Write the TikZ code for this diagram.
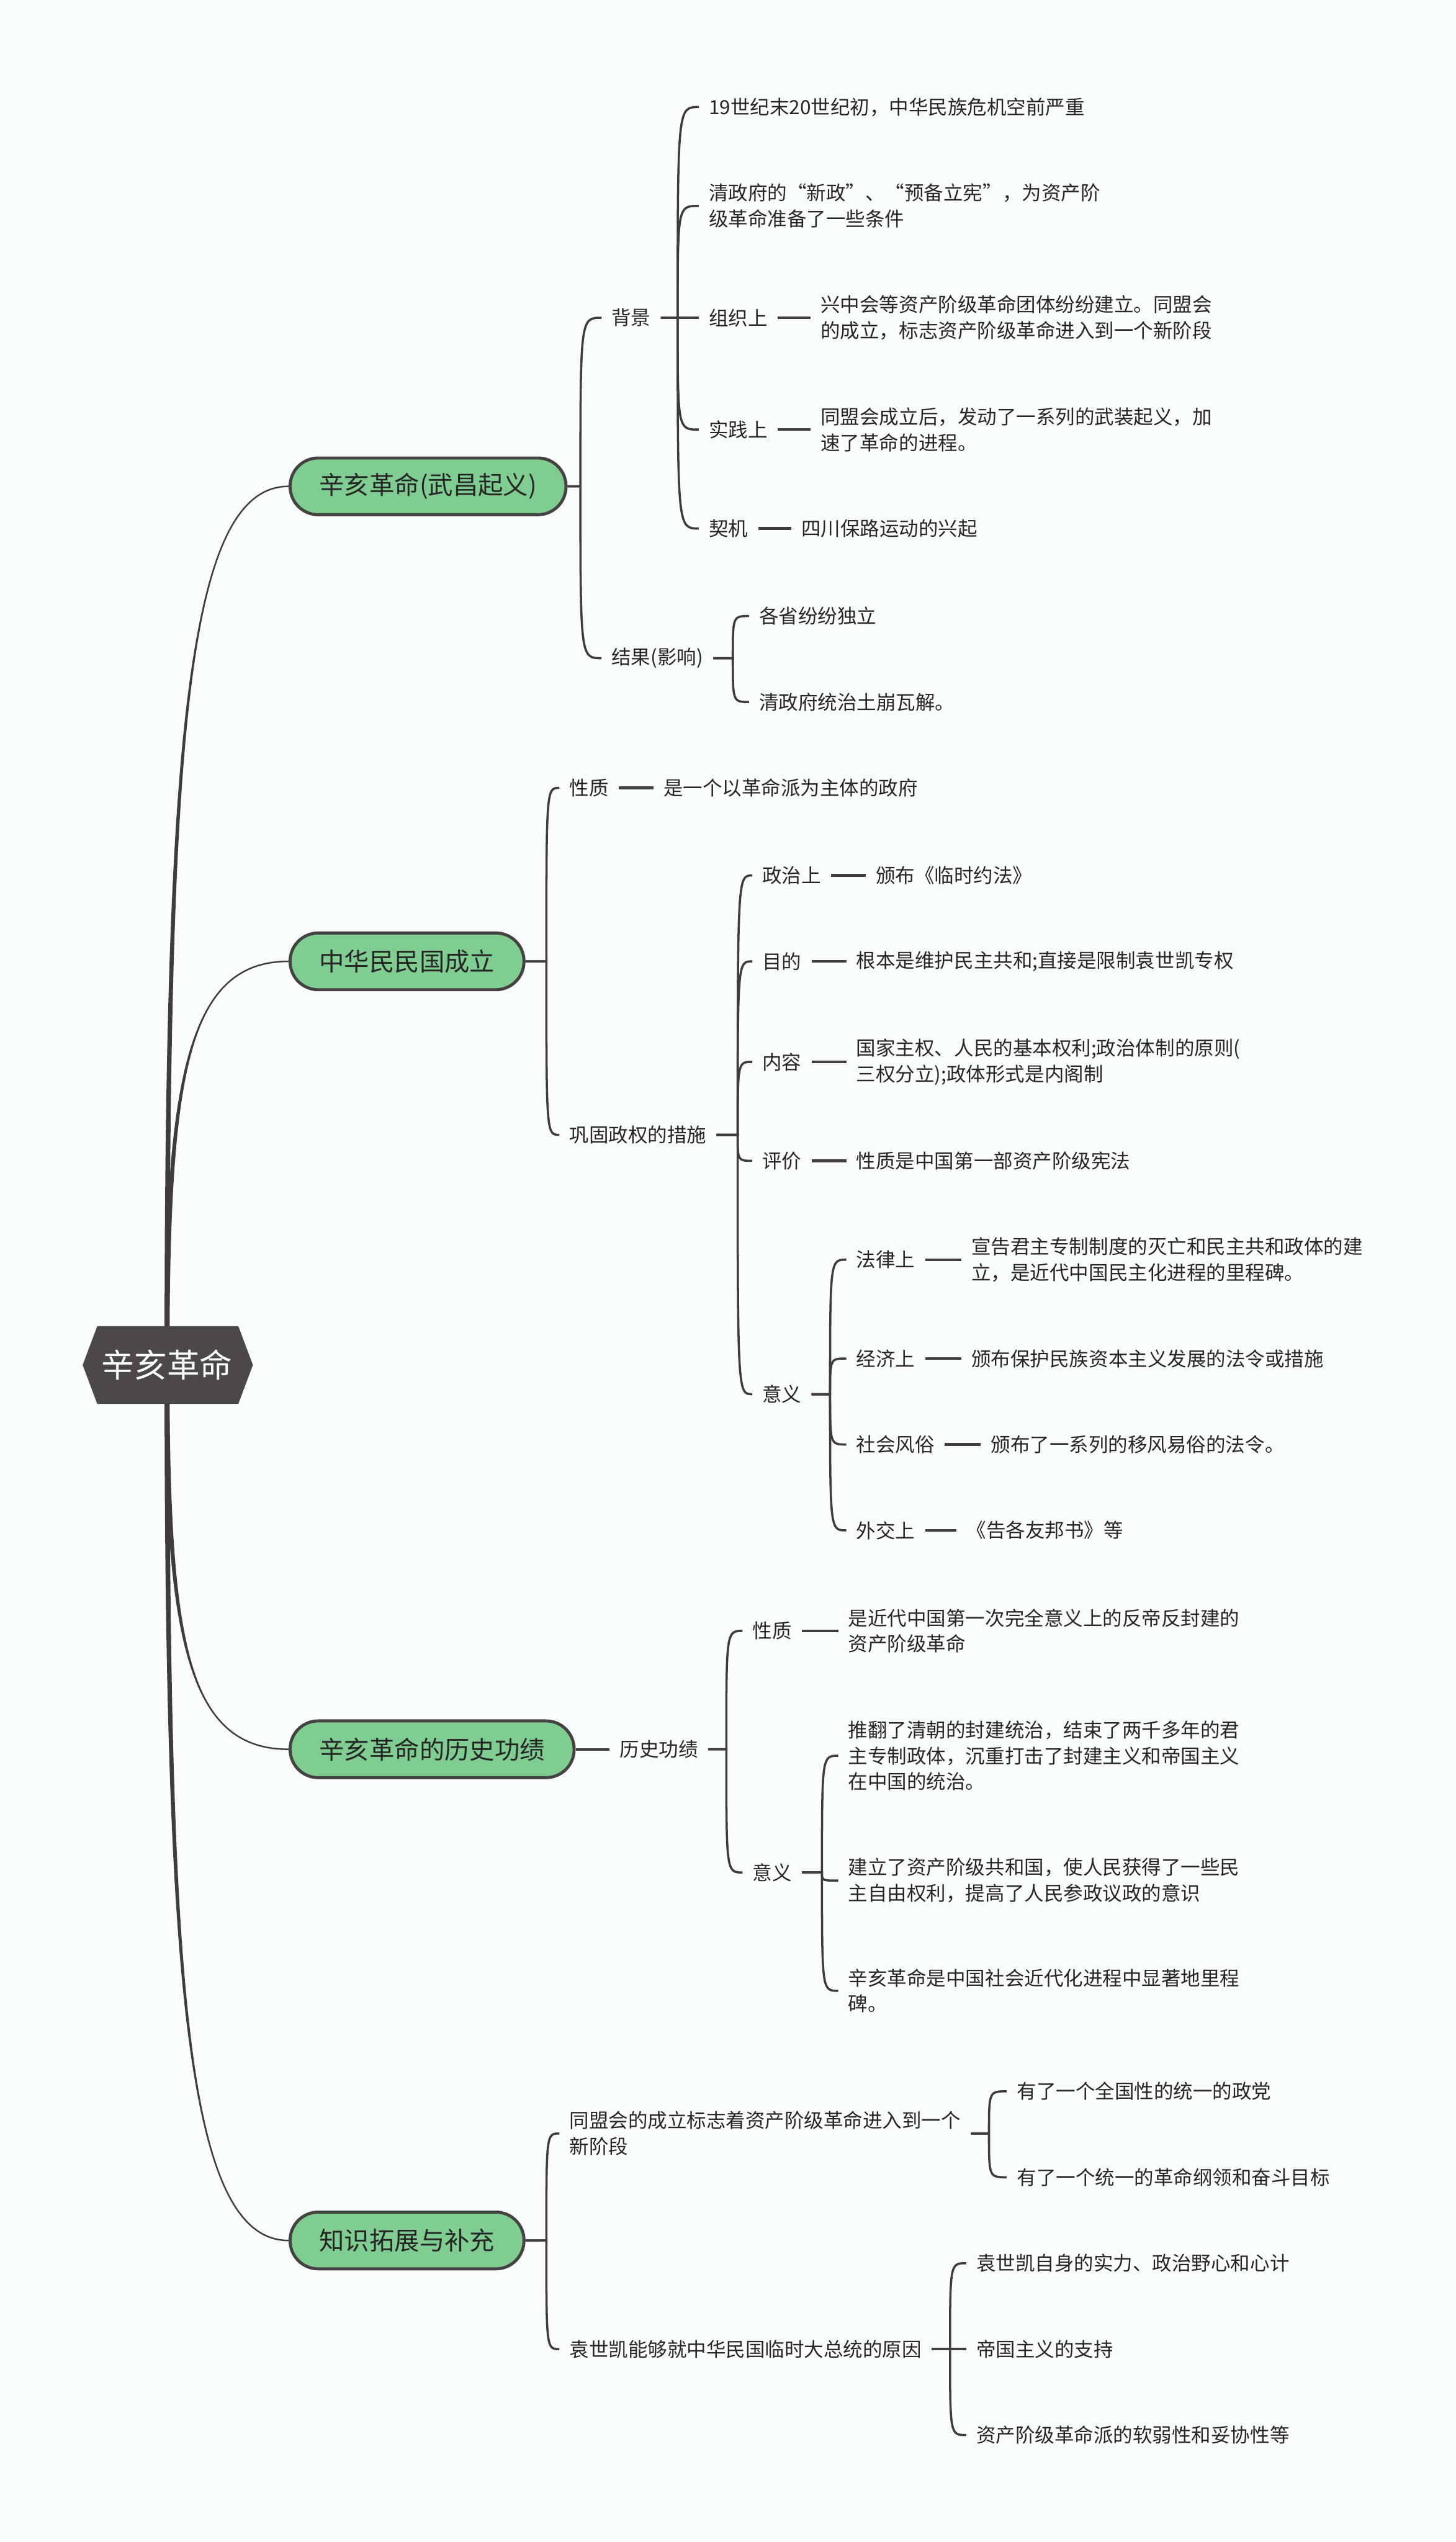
\documentclass[tikz,border=0pt]{standalone}
\usepackage{fontspec}
\setmainfont{Noto Sans CJK SC}
\usetikzlibrary{calc}
\definecolor{bgcol}{RGB}{249,252,253}
\definecolor{greenfill}{RGB}{127,205,145}
\definecolor{boxline}{RGB}{69,66,66}
\definecolor{rootfill}{RGB}{77,72,72}
\definecolor{linecol}{RGB}{64,60,60}
\definecolor{txtcol}{RGB}{38,38,38}
\pgfdeclarelayer{bglayer}
\pgfdeclarelayer{connlayer}
\pgfsetlayers{bglayer,connlayer,main}
\newcommand{\mmroot}[1]{%
  \fill[linecol] let \p1=(#1.west), \p2=(root.center) in
    (\x2-1.3pt,\y2) .. controls (\x2-1.3pt,{\y1+0.3*(\y2-\y1)}) and ({\x2+0.15*(\x1-\x2)},\y1) .. (\p1)
    .. controls ({\x2+0.15*(\x1-\x2)},\y1) and (\x2+1.3pt,{\y1+0.3*(\y2-\y1)}) .. (\x2+1.3pt,\y2) -- cycle;
  \draw[linecol,line width=0.8pt] let \p1=(#1.west), \p2=(root.center) in
    (\p2) .. controls (\x2,{\y1+0.3*(\y2-\y1)}) and ({\x2+0.15*(\x1-\x2)},\y1) .. (\p1);
}
\newcommand{\mmbrace}[3]{%
  \foreach \cc in {#3}{%
    \draw[brline] let \p1=(#1.east), \p2=(\cc.west) in
      (\p1) -- (#2*0.03cm,\y1) .. controls (#2*0.03cm,\y2) and (#2*0.03cm,\y2) .. (\p2);
  }%
}
\tikzset{
  lbl/.style={font=\fontsize{10.3}{13.66}\selectfont, text=txtcol, inner xsep=0.18cm, inner ysep=0.05cm, align=left, anchor=west},
  topic/.style={font=\fontsize{13.2}{16}\selectfont, text=txtcol, fill=greenfill, draw=boxline, line width=1.6pt, rounded corners=0.52cm, minimum height=1.05cm, inner xsep=0.54cm, anchor=west},
  rootlbl/.style={font=\fontsize{17.2}{20}\selectfont, text=white, inner sep=0pt},
  brline/.style={draw=linecol, line width=1.15pt},
  dashline/.style={draw=linecol, line width=1.4pt},
}
\begin{document}
\begin{tikzpicture}[x=0.03cm,y=-0.03cm]
\useasboundingbox (0,0) rectangle (898,1568);
\begin{pgfonlayer}{bglayer}
\fill[bgcol] (0,0) rectangle (898,1568);
\end{pgfonlayer}
% root
\fill[rootfill] (51,842) -- (60,818) -- (147,818) -- (156,842) -- (147,866) -- (60,866) -- cycle;
\node[rootlbl] (root) at (103,842) {辛亥革命};
% level 1
\node[topic] (g1) at (178,300) {辛亥革命(武昌起义)};
\node[topic] (g2) at (178,593) {中华民民国成立};
\node[topic] (g3) at (178,1079) {辛亥革命的历史功绩};
\node[topic] (g4) at (178,1382) {知识拓展与补充};
% g1 subtree
\node[lbl] (bj) at (371,196) {背景};
\node[lbl] (jg) at (371,406) {结果(影响)};
\node[lbl] (bj1) at (431,66) {19世纪末20世纪初，中华民族危机空前严重};
\node[lbl] (bj2) at (431,127) {清政府的“新政”、“预备立宪”，为资产阶\\级革命准备了一些条件};
\node[lbl] (bj3) at (431,196) {组织上};
\node[lbl] (bj3t) at (500,196) {兴中会等资产阶级革命团体纷纷建立。同盟会\\的成立，标志资产阶级革命进入到一个新阶段};
\node[lbl] (bj4) at (431,265) {实践上};
\node[lbl] (bj4t) at (500,265) {同盟会成立后，发动了一系列的武装起义，加\\速了革命的进程。};
\node[lbl] (bj5) at (431,326) {契机};
\node[lbl] (bj5t) at (488,326) {四川保路运动的兴起};
\node[lbl] (jg1) at (462,380) {各省纷纷独立};
\node[lbl] (jg2) at (462,433) {清政府统治土崩瓦解。};
% g2 subtree
\node[lbl] (xz) at (345,486) {性质};
\node[lbl] (xzt) at (403,486) {是一个以革命派为主体的政府};
\node[lbl] (gg) at (345,700) {巩固政权的措施};
\node[lbl] (zz) at (464,540) {政治上};
\node[lbl] (zzt) at (534,540) {颁布《临时约法》};
\node[lbl] (md) at (464,593) {目的};
\node[lbl] (mdt) at (522,593) {根本是维护民主共和;直接是限制袁世凯专权};
\node[lbl] (nr) at (464,655) {内容};
\node[lbl] (nrt) at (522,655) {国家主权、人民的基本权利;政治体制的原则(\\三权分立);政体形式是内阁制};
\node[lbl] (pj) at (464,716) {评价};
\node[lbl] (pjt) at (522,716) {性质是中国第一部资产阶级宪法};
\node[lbl] (yy) at (464,860) {意义};
\node[lbl] (fl) at (522,777) {法律上};
\node[lbl] (flt) at (593,777) {宣告君主专制制度的灭亡和民主共和政体的建\\立，是近代中国民主化进程的里程碑。};
\node[lbl] (jj) at (522,838) {经济上};
\node[lbl] (jjt) at (593,838) {颁布保护民族资本主义发展的法令或措施};
\node[lbl] (sh) at (522,891) {社会风俗};
\node[lbl] (sht) at (605,891) {颁布了一系列的移风易俗的法令。};
\node[lbl] (wj) at (522,944) {外交上};
\node[lbl] (wjt) at (590,944) {《告各友邦书》等};
% g3 subtree
\node[lbl] (ls) at (376,1079) {历史功绩};
\node[lbl] (xz2) at (458,1006) {性质};
\node[lbl] (xz2t) at (517,1006) {是近代中国第一次完全意义上的反帝反封建的\\资产阶级革命};
\node[lbl] (yy2) at (458,1155) {意义};
\node[lbl] (yy2a) at (517,1083) {推翻了清朝的封建统治，结束了两千多年的君\\主专制政体，沉重打击了封建主义和帝国主义\\在中国的统治。};
\node[lbl] (yy2b) at (517,1160) {建立了资产阶级共和国，使人民获得了一些民\\主自由权利，提高了人民参政议政的意识};
\node[lbl] (yy2c) at (517,1228) {辛亥革命是中国社会近代化进程中显著地里程\\碑。};
% g4 subtree
\node[lbl] (tm) at (345,1316) {同盟会的成立标志着资产阶级革命进入到一个\\新阶段};
\node[lbl] (ysk) at (345,1449) {袁世凯能够就中华民国临时大总统的原因};
\node[lbl] (tm1) at (621,1290) {有了一个全国性的统一的政党};
\node[lbl] (tm2) at (621,1343) {有了一个统一的革命纲领和奋斗目标};
\node[lbl] (ysk1) at (596,1396) {袁世凯自身的实力、政治野心和心计};
\node[lbl] (ysk2) at (596,1449) {帝国主义的支持};
\node[lbl] (ysk3) at (596,1502) {资产阶级革命派的软弱性和妥协性等};
% connectors
\begin{pgfonlayer}{connlayer}
\mmroot{g1}
\mmroot{g2}
\mmroot{g3}
\mmroot{g4}
\mmbrace{g1}{358}{bj,jg}
\mmbrace{bj}{418}{bj1,bj2,bj3,bj4,bj5}
\mmbrace{jg}{452}{jg1,jg2}
\draw[dashline] (bj3.east) -- (bj3t.west);
\draw[dashline] (bj4.east) -- (bj4t.west);
\draw[dashline] (bj5.east) -- (bj5t.west);
\mmbrace{g2}{337}{xz,gg}
\draw[dashline] (xz.east) -- (xzt.west);
\mmbrace{gg}{455}{zz,md,nr,pj,yy}
\draw[dashline] (zz.east) -- (zzt.west);
\draw[dashline] (md.east) -- (mdt.west);
\draw[dashline] (nr.east) -- (nrt.west);
\draw[dashline] (pj.east) -- (pjt.west);
\mmbrace{yy}{512}{fl,jj,sh,wj}
\draw[dashline] (fl.east) -- (flt.west);
\draw[dashline] (jj.east) -- (jjt.west);
\draw[dashline] (sh.east) -- (sht.west);
\draw[dashline] (wj.east) -- (wjt.west);
\draw[dashline] (g3.east) -- (ls.west);
\mmbrace{ls}{448}{xz2,yy2}
\draw[dashline] (xz2.east) -- (xz2t.west);
\mmbrace{yy2}{507}{yy2a,yy2b,yy2c}
\mmbrace{g4}{337}{tm,ysk}
\mmbrace{tm}{610}{tm1,tm2}
\mmbrace{ysk}{586}{ysk1,ysk2,ysk3}
\end{pgfonlayer}
\end{tikzpicture}
\end{document}
